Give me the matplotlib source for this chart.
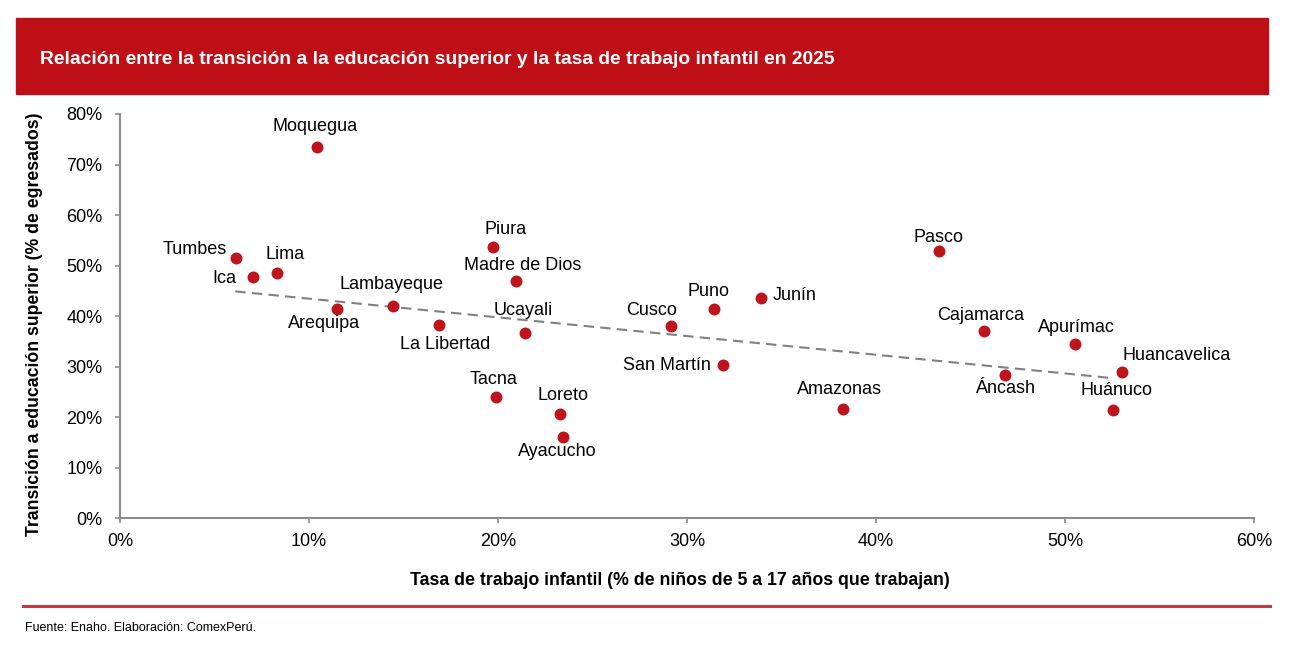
import numpy as np
import matplotlib
matplotlib.use("Agg")
import matplotlib.pyplot as plt
from matplotlib.patches import Rectangle
from matplotlib.lines import Line2D
from matplotlib.ticker import FuncFormatter

plt.rcParams['font.family'] = ['Liberation Sans', 'DejaVu Sans']

# data (% values)
regiones = ['Moquegua', 'Tumbes', 'Ica', 'Lima', 'Arequipa', 'Lambayeque',
            'La Libertad', 'Piura', 'Madre de Dios', 'Ucayali', 'Tacna',
            'Loreto', 'Ayacucho', 'Cusco', 'Puno', 'Junín', 'San Martín',
            'Amazonas', 'Pasco', 'Cajamarca', 'Apurímac', 'Áncash',
            'Huancavelica', 'Huánuco']
trabajo_infantil = [10.44, 6.14, 7.05, 8.29, 11.47, 14.46, 16.89, 19.75, 20.93,
                    21.43, 19.89, 23.28, 23.42, 29.14, 31.44, 33.90, 31.92,
                    38.24, 43.33, 45.73, 50.53, 46.83, 52.99, 52.55]
transicion = [73.4, 51.6, 47.7, 48.6, 41.4, 42.0, 38.2, 53.6, 47.0, 36.6, 24.1,
              20.6, 16.0, 38.0, 41.4, 43.5, 30.3, 21.7, 52.8, 37.1, 34.4, 28.3,
              28.9, 21.5]
# trend line as drawn in the source (end points)
tendencia_x = [6.1, 52.6]
tendencia_y = [44.9, 27.7]
x_ticks = [0, 10, 20, 30, 40, 50, 60]
y_ticks = [0, 10, 20, 30, 40, 50, 60, 70, 80]

# label placement: (dx px, dy px, ha)
label_pos = {
    'Moquegua': (-2, 21, 'center'), 'Tumbes': (-9, 8, 'right'),
    'Ica': (-17, -1, 'right'), 'Lima': (8, 18, 'center'),
    'Arequipa': (-13, -14, 'center'), 'Lambayeque': (-2, 22, 'center'),
    'La Libertad': (6, -19, 'center'), 'Piura': (12, 18, 'center'),
    'Madre de Dios': (7, 15, 'center'), 'Ucayali': (-2, 23, 'center'),
    'Tacna': (-2, 17, 'center'), 'Loreto': (3, 19, 'center'),
    'Ayacucho': (-5, -14, 'center'), 'Cusco': (-19, 16, 'center'),
    'Puno': (-6, 18, 'center'), 'Junín': (12, 3, 'left'),
    'San Martín': (-12, 0, 'right'), 'Amazonas': (-3, 19, 'center'),
    'Pasco': (0, 14, 'center'), 'Cajamarca': (-4, 15, 'center'),
    'Apurímac': (1, 17, 'center'), 'Áncash': (0, -13, 'center'),
    'Huancavelica': (1, 17, 'left'), 'Huánuco': (3, 19, 'center'),
}

red = '#BE0F17'
dot = '#C0141C'
grey = '#8C8C8C'

fig = plt.figure(figsize=(12.97, 6.49), dpi=100)
ax = fig.add_axes([120 / 1297, 1 - 518.3 / 649, 1134 / 1297, 404.3 / 649])

x = np.array(trabajo_infantil)
y = np.array(transicion)

ax.plot(tendencia_x, tendencia_y, color='#808080', lw=1.5, ls=(0, (5, 3)), zorder=2)

ax.scatter(x, y, s=74, color=dot, zorder=3, linewidths=0)

for name, xi, yi in zip(regiones, x, y):
    dx, dy, ha = label_pos[name]
    ax.annotate(name, (xi, yi), xytext=(dx, dy), textcoords='offset pixels',
                ha=ha, va='center', fontsize=13, color='black')

ax.set_xlim(0, 60)
ax.set_ylim(0, 80)
ax.set_xticks(x_ticks)
ax.set_yticks(y_ticks)
pct = FuncFormatter(lambda v, p: f'{v:.0f}%')
ax.xaxis.set_major_formatter(pct)
ax.yaxis.set_major_formatter(pct)
ax.tick_params(labelsize=13, color=grey, length=3.6, width=1.2, direction='out')
ax.tick_params(axis='x', pad=7)
ax.tick_params(axis='y', pad=9)
for s in ['top', 'right']:
    ax.spines[s].set_visible(False)
for s in ['left', 'bottom']:
    ax.spines[s].set_color(grey)
    ax.spines[s].set_linewidth(1.5)

ax.set_xlabel('Tasa de trabajo infantil (% de niños de 5 a 17 años que trabajan)',
              fontsize=12.75, fontweight='bold', labelpad=15.5)
ax.set_ylabel('Transición a educación superior (% de egresados)',
              fontsize=12.7, fontweight='bold', labelpad=17)
ax.xaxis.label.set_x(0.5 - 7 / 1134)
ax.yaxis.label.set_y(0.5 - 8 / 404)

# header banner
fig.patches.append(Rectangle((16 / 1297, 1 - 94 / 649), 1252 / 1297, 76 / 649,
                             transform=fig.transFigure, color=red, zorder=0))
fig.text(40 / 1297, 1 - 59 / 649,
         'Relación entre la transición a la educación superior y la tasa de trabajo infantil en 2025',
         color='white', fontsize=13.85, fontweight='bold', va='center', ha='left')

# bottom rule and source
fig.add_artist(Line2D([23 / 1297, 1270 / 1297], [1 - 605.5 / 649, 1 - 605.5 / 649],
                      transform=fig.transFigure, color='#C43A44', lw=2.2))
fig.text(25 / 1297, 1 - 628 / 649, 'Fuente: Enaho. Elaboración: ComexPerú.',
         fontsize=9, va='center', ha='left')

fig.savefig('out.png', dpi=100)
